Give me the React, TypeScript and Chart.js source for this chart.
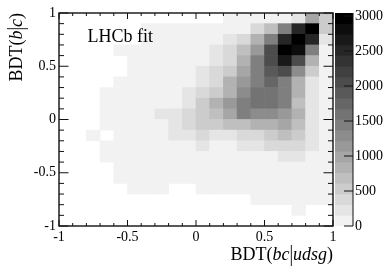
import React, { useEffect, useRef } from "react";
import { Chart, registerables } from "chart.js";

Chart.register(...registerables);

const _ = null;
// Bin contents, top row (BDT(b|c) = 1) to bottom row, left column (BDT(bc|udsg) = -1) to right
const row00 = [_, _, _, _, _, _, _, _, _, _, _, _, 70, 70, 70, 70, 70, 230, 990, 530];
const row01 = [_, _, _, _, _, _, 70, 70, 70, 70, 70, 70, 70, 70, 380, 680, 1440, 2510, 2970, 530];
const row02 = [_, _, _, _, _, _, 70, 70, 70, 70, 70, 70, 230, 380, 840, 1440, 2510, 2970, 2510, 230];
const row03 = [_, _, _, _, 70, 70, 70, 70, 70, 70, 70, 230, 380, 680, 1140, 2050, 2970, 2810, 1440, 70];
const row04 = [_, _, _, _, _, 70, 70, 70, 70, 70, 70, 230, 380, 840, 1440, 2050, 2660, 2050, 840, 70];
const row05 = [_, _, _, _, _, 70, 70, 70, 70, 70, 230, 380, 530, 990, 1440, 1900, 2050, 1290, 530, 70];
const row06 = [_, _, _, _, 70, 70, 70, 70, 70, 70, 230, 380, 840, 1140, 1440, 1750, 1440, 840, 230, 70];
const row07 = [_, _, _, 70, 70, 70, 70, 70, 70, 230, 380, 530, 840, 1290, 1600, 1600, 1440, 840, 230, 70];
const row08 = [_, _, _, 70, 70, 70, 70, 70, 70, 230, 530, 840, 1140, 1440, 1600, 1600, 1440, 680, 230, 70];
const row09 = [_, _, _, 70, 70, 70, 70, 230, 230, 380, 530, 680, 990, 1440, 1290, 1290, 1140, 840, 230, 70];
const row10 = [_, _, _, 70, 70, 70, 70, 70, 230, 380, 530, 530, 680, 680, 840, 840, 990, 680, 230, 70];
const row11 = [_, _, 70, _, 70, 70, 70, 70, 230, 230, 380, 230, 230, 380, 380, 530, 680, 530, 230, 70];
const row12 = [_, _, _, 70, 70, 70, 70, 70, 70, 70, 230, 70, 70, 230, 230, 380, 380, 380, 230, 70];
const row13 = [_, _, _, 70, 70, 70, 70, 70, 70, 70, 70, 70, 70, 70, 70, 70, 230, 230, 70, 70];
const row14 = [_, _, _, _, 70, 70, 70, 70, 70, 70, 70, 70, 70, 70, 70, 70, 70, 70, 70, 70];
const row15 = [_, _, _, _, 70, 70, 70, 70, 70, 70, 70, 70, 70, 70, 70, 70, 70, 70, 70, 70];
const row16 = [_, _, _, _, _, 70, 70, 70, _, _, 70, 70, 70, 70, 70, 70, 70, 70, 70, 70];
const row17 = [_, _, _, _, _, _, _, _, _, _, _, _, _, _, 70, 70, 70, 70, 70, 70];
const row18 = [_, _, _, _, _, _, _, _, _, _, _, _, _, _, _, _, _, 70, _, _];
const row19 = [_, _, _, _, _, _, _, _, _, _, _, _, _, _, _, _, _, _, _, _];
const rows = [row00, row01, row02, row03, row04, row05, row06, row07, row08, row09, row10, row11, row12, row13, row14, row15, row16, row17, row18, row19];

const zMax = 3043;
const nLevels = 20;
const zStep = zMax / nLevels;
const binWidth = 0.1;
const serif = "'Liberation Serif'";
const ink = "#111";

const levelColor = (k: number) => {
  const g = Math.round(242 * (1 - k / (nLevels - 1)));
  return `rgb(${g},${g},${g})`;
};
const valueColor = (v: number) =>
  levelColor(Math.min(nLevels - 1, Math.floor(v / zStep)));

const cells: { x: number; y: [number, number]; v: number }[] = [];
rows.forEach((row, j) =>
  row.forEach((v, i) => {
    if (v === null) return;
    cells.push({
      x: -1 + binWidth * (i + 0.5),
      y: [1 - binWidth * (j + 1), 1 - binWidth * j],
      v,
    });
  })
);

const isMajor = (v: number) => Math.abs(v * 2 - Math.round(v * 2)) < 1e-6;

function drawRuns(
  ctx: CanvasRenderingContext2D,
  runs: [string, boolean][],
  size: number
) {
  const fontOf = (it: boolean) => `${it ? "italic " : ""}${size}px ${serif}`;
  let total = 0;
  for (const [t, it] of runs) {
    ctx.font = fontOf(it);
    total += ctx.measureText(t).width;
  }
  let x = -total;
  ctx.textAlign = "left";
  ctx.textBaseline = "alphabetic";
  ctx.fillStyle = "#000";
  for (const [t, it] of runs) {
    ctx.font = fontOf(it);
    if (t === "|") {
      // the reference's divider is a tall rule, stretched about the text's middle
      ctx.save();
      ctx.translate(x, -4.5);
      ctx.scale(1, 1.3);
      ctx.fillText(t, 0, 4.5);
      ctx.restore();
    } else {
      ctx.fillText(t, x, 0);
    }
    x += ctx.measureText(t).width;
  }
}

const framePlugin = {
  id: "frame",
  afterDraw(chart: any) {
    const { ctx, chartArea: a, scales } = chart;
    ctx.save();
    ctx.strokeStyle = ink;
    ctx.lineWidth = 1;
    ctx.beginPath();
    for (const t of scales.x.ticks) {
      const p = scales.x.getPixelForValue(t.value);
      const l = isMajor(t.value) ? 6 : 3;
      ctx.moveTo(p, a.bottom);
      ctx.lineTo(p, a.bottom - l);
      ctx.moveTo(p, a.top);
      ctx.lineTo(p, a.top + l);
    }
    for (const t of scales.y.ticks) {
      const p = scales.y.getPixelForValue(t.value);
      const l = isMajor(t.value) ? 9.5 : 5;
      ctx.moveTo(a.left, p);
      ctx.lineTo(a.left + l, p);
      ctx.moveTo(a.right, p);
      ctx.lineTo(a.right - l, p);
    }
    ctx.stroke();
    ctx.lineWidth = 1.4;
    ctx.strokeRect(a.left, a.top, a.right - a.left, a.bottom - a.top);

    ctx.fillStyle = "#000";
    ctx.font = `18px ${serif}`;
    ctx.textAlign = "left";
    ctx.textBaseline = "alphabetic";
    ctx.fillText("LHCb fit", 87.5, 41.5);

    ctx.save();
    ctx.translate(333, 260);
    drawRuns(ctx, [["BDT(", false], ["bc", true], ["|", false], ["udsg", true], [")", false]], 18);
    ctx.restore();

    ctx.save();
    ctx.translate(22, 13);
    ctx.rotate(-Math.PI / 2);
    drawRuns(ctx, [["BDT(", false], ["b", true], ["|", false], ["c", true], [")", false]], 18);
    ctx.restore();
    ctx.restore();
  },
};

const barFramePlugin = {
  id: "barFrame",
  afterDraw(chart: any) {
    const { ctx, chartArea: a, scales } = chart;
    ctx.save();
    ctx.strokeStyle = ink;
    ctx.lineWidth = 1;
    ctx.beginPath();
    for (const t of scales.y.ticks) {
      const p = scales.y.getPixelForValue(t.value);
      ctx.moveTo(a.right, p);
      ctx.lineTo(a.right - 9, p);
    }
    ctx.moveTo(a.right, a.top);
    ctx.lineTo(a.right, a.bottom);
    ctx.stroke();
    ctx.restore();
  },
};

export default function App() {
  const mainRef = useRef<HTMLCanvasElement>(null);
  const barRef = useRef<HTMLCanvasElement>(null);

  useEffect(() => {
    const tickFont = { family: serif, size: 14 };
    const noGrid = { display: false, drawTicks: false, tickLength: 0 };
    const main = new Chart(mainRef.current as HTMLCanvasElement, {
      type: "bar",
      data: {
        datasets: [
          {
            data: cells as any,
            backgroundColor: cells.map((c) => valueColor(c.v)),
            borderWidth: 0,
            barPercentage: 1,
            categoryPercentage: 1,
          },
        ],
      },
      options: {
        animation: false,
        responsive: false,
        layout: { padding: { top: 13, right: 59, left: 0, bottom: 0 } },
        plugins: { legend: { display: false }, tooltip: { enabled: false } },
        scales: {
          x: {
            type: "linear",
            min: -1,
            max: 1,
            offset: false,
            afterFit: (s: any) => {
              s.height = 40;
            },
            grid: noGrid,
            border: { display: false },
            ticks: {
              stepSize: 0.1,
              autoSkip: false,
              maxRotation: 0,
              padding: 3,
              color: "#000",
              font: tickFont,
              callback: (v: any) => (isMajor(Number(v)) ? String(Math.round(Number(v) * 2) / 2) : ""),
            },
          },
          y: {
            type: "linear",
            min: -1,
            max: 1,
            afterFit: (s: any) => {
              s.width = 59;
            },
            grid: noGrid,
            border: { display: false },
            ticks: {
              stepSize: 0.1,
              autoSkip: false,
              padding: 3,
              color: "#000",
              font: tickFont,
              callback: (v: any) => (isMajor(Number(v)) ? String(Math.round(Number(v) * 2) / 2) : ""),
            },
          },
        },
      },
      plugins: [framePlugin],
    } as any);

    const levels = Array.from({ length: nLevels }, (_v, k) => k);
    const bar = new Chart(barRef.current as HTMLCanvasElement, {
      type: "bar",
      data: {
        labels: levels.map(() => "z"),
        datasets: [
          {
            data: levels.map((k) => ({ x: 0.5, y: [k * zStep, (k + 1) * zStep] })) as any,
            backgroundColor: levels.map((k) => levelColor(k)),
            borderWidth: 0,
            barPercentage: 1,
            categoryPercentage: 1,
            barThickness: 18,
          },
        ],
      },
      options: {
        animation: false,
        responsive: false,
        layout: { padding: { top: 13, right: 0, left: 2, bottom: 40 } },
        plugins: { legend: { display: false }, tooltip: { enabled: false } },
        scales: {
          x: { type: "linear", min: 0, max: 1, display: false, grid: { display: false }, offset: false },
          y: {
            position: "right",
            min: 0,
            max: zMax,
            afterFit: (s: any) => {
              s.width = 39;
            },
            grid: noGrid,
            border: { display: false },
            afterBuildTicks: (s: any) => {
              s.ticks = [0, 500, 1000, 1500, 2000, 2500, 3000].map((value) => ({ value }));
            },
            ticks: {
              autoSkip: false,
              padding: 2,
              color: "#000",
              font: tickFont,
              callback: (v: any) => String(v),
            },
          },
        },
      },
      plugins: [barFramePlugin],
    } as any);

    return () => {
      main.destroy();
      bar.destroy();
    };
  }, []);

  return (
    <div style={{ position: "absolute", left: 0, top: 0, width: 392, height: 266, background: "#fff", overflow: "hidden" }}>
      <canvas ref={mainRef} width={392} height={266} style={{ position: "absolute", left: 0, top: 0 }} />
      <canvas ref={barRef} width={59} height={266} style={{ position: "absolute", left: 333, top: 0 }} />
    </div>
  );
}
